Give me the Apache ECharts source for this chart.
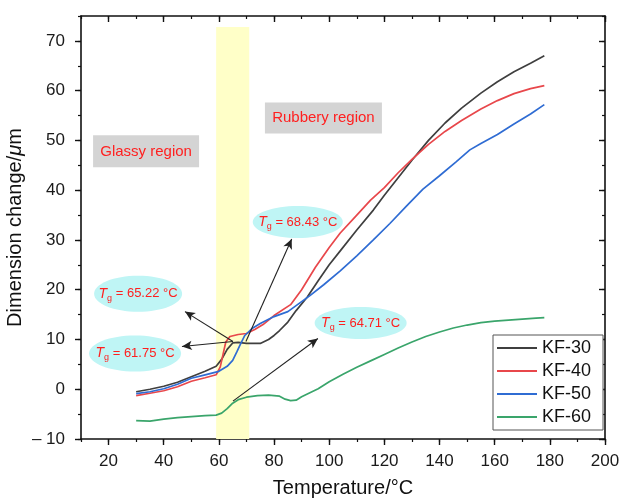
<!DOCTYPE html>
<html>
<head>
<meta charset="utf-8">
<script src="https://cdn.jsdelivr.net/npm/echarts@6/dist/echarts.min.js"></script>
<style>
html, body { margin: 0; padding: 0; background: #fff; }
#main { width: 624px; height: 499px; }
</style>
</head>
<body>
<div id="main"></div>
<script>
// data: [temperature, dimension change]
const kf30 = [[30,-0.5],[35,0],[40,0.6],[45,1.4],[50,2.5],[55,3.6],[59,4.6],[61,6],[63,8],[65,9.3],[67,9.4],[70,9.2],[75,9.2],[78,10],[80,10.8],[82,11.8],[85,13.5],[88,15.8],[92,18.5],[96,21.8],[100,25],[104,27.8],[110,32],[116,36],[120,39],[125,42.5],[130,46],[136,50],[142,53.5],[148,56.5],[155,59.5],[161,61.8],[167,63.8],[173,65.5],[178,67]];
const kf40 = [[30,-1.3],[35,-0.8],[40,-0.3],[45,0.5],[50,1.6],[55,2.3],[59,2.9],[60.5,4.5],[61.5,7],[62.5,9.5],[64,10.6],[67,11],[70,11.2],[73,12],[76,13],[80,14.8],[86,17],[90,20],[95,24.5],[100,28.5],[104,31.4],[110,35],[115,38],[120,40.5],[125,43.5],[130,46.2],[136,49.2],[142,51.8],[148,54],[155,56.3],[161,58],[167,59.4],[173,60.4],[178,61]];
const kf50 = [[30,-0.9],[35,-0.5],[40,0.1],[45,1],[50,2.2],[55,2.9],[60,3.6],[63,4.6],[65,5.8],[66.5,7.5],[67.6,8.8],[69.4,10.8],[72,12.2],[75,13.2],[80,14.6],[85,15.6],[89,17.2],[93,18.8],[98,21],[104,23.8],[110,26.8],[116,30],[122,33.3],[128,36.8],[134,40.2],[140,42.9],[146,45.7],[151,48.1],[155,49.4],[161,51.2],[167,53.3],[173,55.3],[178,57.2]];
const kf60 = [[30,-6.3],[35,-6.4],[40,-6],[45,-5.7],[50,-5.5],[55,-5.3],[59,-5.2],[61,-4.8],[63,-3.9],[65,-2.8],[67,-2.1],[70,-1.6],[74,-1.3],[78,-1.2],[82,-1.4],[84,-2],[86,-2.3],[88,-2.2],[90,-1.5],[93,-0.7],[96,0.1],[100,1.5],[105,3],[110,4.4],[115,5.7],[120,7],[125,8.3],[130,9.5],[135,10.6],[140,11.5],[145,12.3],[150,12.9],[155,13.4],[160,13.7],[165,13.9],[170,14.1],[175,14.3],[178,14.4]];
const names = ['KF-30', 'KF-40', 'KF-50', 'KF-60'];
const xTicks = [20, 40, 60, 80, 100, 120, 140, 160, 180, 200];
const yTicks = [-10, 0, 10, 20, 30, 40, 50, 60, 70];
const tgBand = [59, 71];

const colors = ['#3f3f3f', '#e8474b', '#2f6cd3', '#3aa56b'];
const font = 'Liberation Sans, Arial, Helvetica, sans-serif';
const ink = '#111';

const chart = echarts.init(document.getElementById('main'));

function xAxisDef(pos, major) {
  return {
    type: 'value', position: pos, min: 10, max: 200, interval: 10,
    splitLine: { show: false },
    axisLine: { show: major, onZero: false, lineStyle: { color: ink, width: 1.6 } },
    axisTick: major
      ? { customValues: xTicks, length: 6, inside: pos === 'top', lineStyle: { color: ink, width: 1.4 } }
      : { length: 3, inside: pos === 'top', lineStyle: { color: ink, width: 1.2 } },
    axisLabel: (major && pos === 'bottom')
      ? { customValues: xTicks, fontSize: 17, color: '#1a1a1a', fontFamily: font, margin: 14 }
      : { show: false },
    name: (major && pos === 'bottom') ? 'Temperature/°C' : '',
    nameLocation: 'middle', nameGap: 39,
    nameTextStyle: { fontSize: 20, color: ink, fontFamily: font }
  };
}
function yAxisDef(pos, major) {
  return {
    type: 'value', position: pos, min: -10, max: 75, interval: 5,
    splitLine: { show: false },
    axisLine: { show: major, onZero: false, lineStyle: { color: ink, width: 1.6 } },
    axisTick: major
      ? { customValues: yTicks, length: 6, inside: pos === 'right', lineStyle: { color: ink, width: 1.4 } }
      : { length: 3, inside: pos === 'right', lineStyle: { color: ink, width: 1.2 } },
    axisLabel: (major && pos === 'left')
      ? { customValues: yTicks, fontSize: 17, color: '#1a1a1a', fontFamily: font, margin: 16,
          formatter: v => v < 0 ? '– ' + Math.abs(v) : String(v) }
      : { show: false },
    name: (major && pos === 'left') ? 'Dimension change/{i|μ}m' : '',
    nameLocation: 'middle', nameGap: 56, nameMoveOverlap: false,
    nameTextStyle: { fontSize: 20, color: ink, fontFamily: font,
      rich: { i: { fontSize: 20, fontStyle: 'italic', fontFamily: font, color: ink } } }
  };
}

const seriesList = names.map((n, i) => ({
  name: n, type: 'line', data: [kf30, kf40, kf50, kf60][i],
  symbol: 'none', z: 3,
  lineStyle: { color: colors[i], width: 1.7 }, itemStyle: { color: colors[i] }
}));

// band + arrows hang on empty helper series
const arrows = [
  [[65.1, 9.6], [47.7, 15.6]],
  [[65.1, 9.6], [46.6, 8.6]],
  [[69.8, 9.6], [86.4, 30.2]],
  [[65.1, -2.4], [95.9, 10.2]]
];
seriesList.unshift({
  name: 'anno', type: 'line', data: [], z: 1, silent: true,
  markArea: {
    silent: true,
    itemStyle: { color: '#ffffc8' },
    data: [[{ xAxis: tgBand[0], yAxis: -10 }, { xAxis: tgBand[1], yAxis: 72.8 }]]
  }
});
seriesList.push({
  name: 'arrows', type: 'line', data: [], z: 4, silent: true,
  markLine: {
    silent: true, symbol: ['none', 'arrow'], symbolSize: [7, 10],
    label: { show: false },
    lineStyle: { color: '#222', width: 1.1, type: 'solid' },
    emphasis: { disabled: true },
    data: arrows.map(a => [{ coord: a[0] }, { coord: a[1] }])
  }
});

chart.setOption({
  animation: false,
  backgroundColor: '#fff',
  grid: { left: 81, right: 19, top: 16, bottom: 60, outerBoundsMode: 'none' },
  xAxis: [xAxisDef('bottom', true), xAxisDef('bottom', false), xAxisDef('top', true), xAxisDef('top', false)],
  yAxis: [yAxisDef('left', true), yAxisDef('left', false), yAxisDef('right', true), yAxisDef('right', false)],
  legend: {
    data: names, orient: 'vertical', left: 493, top: 335,
    itemWidth: 40, itemHeight: 14, itemGap: 5, itemTextGap: 5,
    padding: [4, 12, 4, 3],
    borderColor: '#555', borderWidth: 1, backgroundColor: '#fff',
    itemStyle: { opacity: 0 },
    textStyle: { fontSize: 18, color: ink, fontFamily: font }
  },
  series: seriesList
});

// annotation labels, placed by data coordinates
const regions = [
  { text: 'Glassy region', at: [33.6, 47.8], w: 106, h: 32 },
  { text: 'Rubbery region', at: [97.9, 54.5], w: 117, h: 31 }
];
const tgNotes = [
  { value: '65.22', at: [30.7, 19.2], rx: 44, ry: 18 },
  { value: '61.75', at: [29.6, 7.2], rx: 46, ry: 18 },
  { value: '68.43', at: [88.6, 33.6], rx: 45, ry: 16 },
  { value: '64.71', at: [111.4, 13.3], rx: 46, ry: 16 }
];
const px = p => chart.convertToPixel({ xAxisIndex: 0, yAxisIndex: 0 }, p);
const graphics = [];
regions.forEach(r => {
  const c = px(r.at);
  graphics.push({ type: 'rect', z: 5, silent: true,
    shape: { x: c[0] - r.w / 2, y: c[1] - r.h / 2, width: r.w, height: r.h },
    style: { fill: '#d4d4d4' } });
  graphics.push({ type: 'text', z: 6, silent: true, x: c[0], y: c[1],
    style: { text: r.text, fill: '#ff1f1f', fontSize: 15, fontFamily: font, align: 'center', verticalAlign: 'middle' } });
});
tgNotes.forEach(t => {
  const c = px(t.at);
  graphics.push({ type: 'ellipse', z: 5, silent: true,
    shape: { cx: c[0], cy: c[1], rx: t.rx, ry: t.ry },
    style: { fill: '#bff5f5' } });
  graphics.push({ type: 'text', z: 6, silent: true, x: c[0], y: c[1],
    style: {
      text: '{i|T}{s|g}{n| = ' + t.value + ' °C}',
      align: 'center', verticalAlign: 'middle',
      rich: {
        i: { fontSize: 14, fontStyle: 'italic', fill: '#ff1f1f', fontFamily: font },
        s: { fontSize: 9, fill: '#ff1f1f', fontFamily: font, padding: [9, 0, 0, 0] },
        n: { fontSize: 13, fill: '#ff1f1f', fontFamily: font }
      }
    } });
});
chart.setOption({ graphic: graphics });
</script>
</body>
</html>
